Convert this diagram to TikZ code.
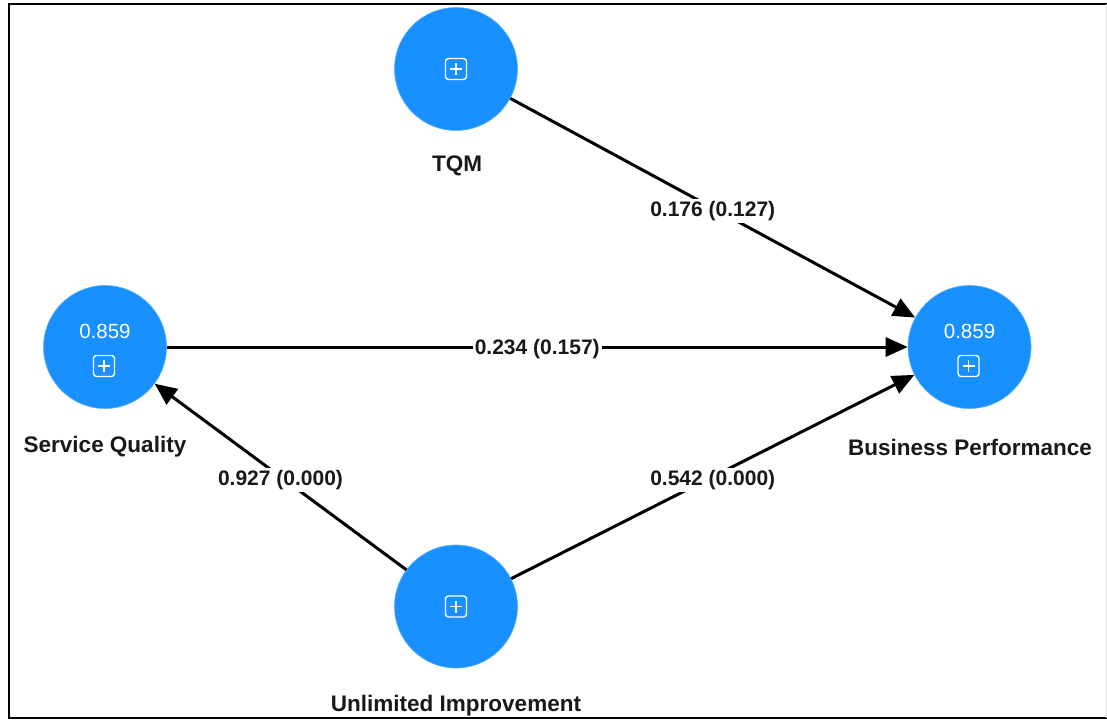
\documentclass[tikz,border=0pt]{standalone}
\usepackage{fontspec}
\setmainfont{Liberation Sans}
\usetikzlibrary{arrows.meta}
\definecolor{lvblue}{RGB}{24,144,255}
\begin{document}
\begin{tikzpicture}[x=1pt,y=-1pt,
  latent/.style={circle,fill=lvblue,draw=lvblue!70!white,line width=0.6pt,minimum size=123pt,inner sep=0pt},
  namelabel/.style={font=\fontsize{22.5}{26}\selectfont\bfseries,text=black!90,inner sep=1pt},
  valuelabel/.style={font=\fontsize{20.5}{24}\selectfont,text=white,inner sep=0pt},
  pathlabel/.style={font=\fontsize{21}{25}\selectfont\bfseries,text=black!90,fill=white,inner sep=2pt},
  path/.style={line width=3pt,black,-{Triangle[length=22pt,width=19pt]}},
  plusicon/.pic={
    \draw[white,line width=1.4pt,rounded corners=3pt] (-10.5,-10.5) rectangle (10.5,10.5);
    \draw[white,line width=1.4pt] (-6,0) -- (6,0) (0,-6) -- (0,6);
  }]
\useasboundingbox (0,0) rectangle (1107,720);
\fill[white] (0,0) rectangle (1107,720);
% frame
\draw[black,line width=2.2pt] (1107,4) -- (9,4) -- (9,718) -- (1107,718);
\draw[black!12,line width=1pt] (1106,4) -- (1106,718);

% constructs
\node[latent] (tqm) at (456,69) {};
\node[latent] (sq) at (105,347) {};
\node[latent] (bp) at (969.5,347) {};
\node[latent] (ui) at (456,606.5) {};

\pic at (tqm.center) {plusicon};
\pic at (ui.center) {plusicon};
\node[valuelabel] (sqv) at (105,331) {0.859};
\node[valuelabel] (bpv) at (969.5,331) {0.859};
\pic at (104,366) {plusicon};
\node[coordinate] (bpicon) at (968.5,366) {};
\pic at (bpicon) {plusicon};

% names
\node[namelabel] (tqmlab) at (457,166) {TQM};
\node[namelabel] (sqlab) at (105,447) {Service Quality};
\node[namelabel] (bplab) at (970,447) {Business Performance};
\node[namelabel] (uilab) at (456,706) {Unlimited Improvement};

% paths
\draw[path] (tqm) -- node[pathlabel,pos=0.5,yshift=-3pt] (l1) {0.176 (0.127)} (bp);
\draw[path] (sq) -- node[pathlabel,pos=0.5,yshift=-2pt] (l2) {0.234 (0.157)} (bp);
\draw[path] (ui) -- node[pathlabel,pos=0.5,yshift=-3pt] (l3) {0.927 (0.000)} (sq);
\draw[path] (ui) -- node[pathlabel,pos=0.5,yshift=-3pt] (l4) {0.542 (0.000)} (bp);
\end{tikzpicture}
\end{document}
